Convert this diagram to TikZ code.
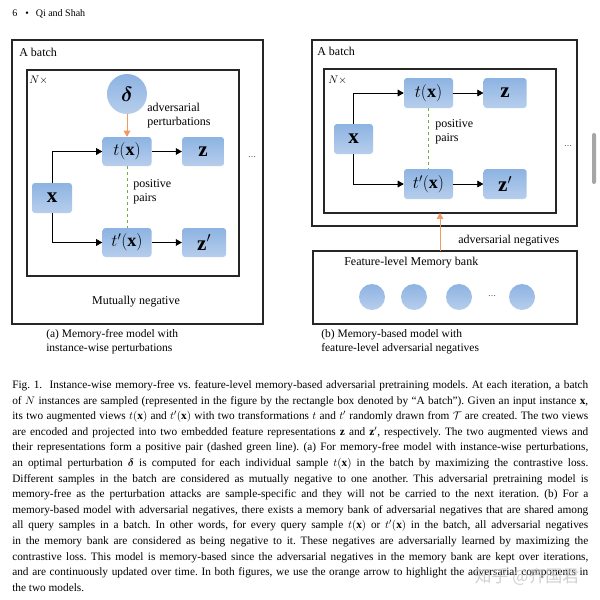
\documentclass[tikz,border=0pt]{standalone}
\usepackage{fontspec}
\setmainfont{Liberation Serif}
\newfontfamily\cjk{Noto Sans CJK SC}
\usepackage{bm}
\usetikzlibrary{arrows,positioning,calc}
\definecolor{boxtop}{HTML}{8DB3E2}
\definecolor{boxbot}{HTML}{B7CEEC}
\definecolor{advorange}{HTML}{F09A62}
\definecolor{posgreen}{HTML}{6FAE45}

\begin{document}
\begin{tikzpicture}[x=1pt, y=-1pt, >=triangle 60, semithick, node distance=30pt]
		\tikzstyle{frame}=[draw=black!85, line width=1.2pt]
		\tikzstyle{blk}=[rounded corners=3pt, top color=boxtop, bottom color=boxbot, inner sep=0pt, minimum height=29pt, text=black]
		\tikzstyle{circ}=[circle, top color=boxtop, bottom color=boxbot, inner sep=0pt]
		\tikzstyle{lbl}=[font=\fontsize{12}{14}\selectfont, align=left, inner sep=0pt]
		\tikzstyle{tx}=[font=\fontsize{18}{18}\selectfont]
		\tikzstyle{big}=[font=\fontsize{21}{21}\selectfont]
		\useasboundingbox (0,0) rectangle (600,600);
		\fill[white] (0,0) rectangle (600,600);
		% header
		\node[anchor=base west, inner sep=0pt, font=\fontsize{10}{12}\selectfont] (head) at (12,16.5) {6\hspace{8pt}\textbullet\hspace{7pt}Qi and Shah};
		% (a) memory-free
		\draw[frame] (12,40) rectangle (263,324);
		\draw[frame] (27,70) rectangle (239,276);
		\node[lbl, anchor=west] (batchA) at (19,52) {A batch};
		\node[lbl, anchor=west, font=\fontsize{11}{13}\selectfont] (NA) at (29,80) {$N\times$};
		\node[circ, minimum size=40pt, font=\fontsize{20}{20}\selectfont] (D) at (127,94) {$\bm{\delta}$};
		\node[blk, tx, minimum width=49pt] (T) at (127,151.5) {$t(\mathbf{x})$};
		\node[blk, big, minimum width=42pt] (Z) [right = 30pt of T] {$\mathbf{z}$};
		\node[blk, big, minimum width=40pt, minimum height=30pt] (X) at (52,198) {$\mathbf{x}$};
		\node[blk, tx, minimum width=49pt] (Tp) at (127,242.5) {$t'(\mathbf{x})$};
		\node[blk, big, minimum width=44pt] (Zp) [right = 30pt of Tp] {$\mathbf{z}'$};
		\node[lbl, anchor=west] (adv) at (147,116) {adversarial\\perturbations};
		\node[lbl, anchor=west] (pos) at (133,192) {positive\\pairs};
		\node[lbl] (mneg) at (136,302) {Mutually negative};
		\node[inner sep=0pt, font=\fontsize{8}{8}\selectfont] (dotsA) at (252,157) {\ldots};
		\draw[->, advorange] (D) -- (T);
		\draw[dashed, posgreen] (T) -- (Tp);
		\draw[->] (X.north) |- (T.west);
		\draw[->] (X.south) |- (Tp.west);
		\draw[->] (T) -- (Z);
		\draw[->] (Tp) -- (Zp);
		% (b) memory-based
		\draw[frame] (312,40) rectangle (577,226);
		\draw[frame] (324,69) rectangle (556,213);
		\node[lbl, anchor=west] (batchB) at (317,51) {A batch};
		\node[lbl, anchor=west, font=\fontsize{11}{13}\selectfont] (NB) at (328,80) {$N\times$};
		\node[blk, tx, minimum width=49pt, minimum height=30pt] (T2) at (428.5,93) {$t(\mathbf{x})$};
		\node[blk, big, minimum width=43pt, minimum height=30pt] (Z2) [right = 30pt of T2] {$\mathbf{z}$};
		\node[blk, big, minimum width=39pt, minimum height=30pt] (X2) at (353.5,139) {$\mathbf{x}$};
		\node[blk, tx, minimum width=49pt, minimum height=30pt] (Tp2) at (428.5,184) {$t'(\mathbf{x})$};
		\node[blk, big, minimum width=43pt, minimum height=30pt] (Zp2) [right = 30pt of Tp2] {$\mathbf{z}'$};
		\node[lbl, anchor=west] (pos2) at (435,132) {positive\\pairs};
		\node[inner sep=0pt, font=\fontsize{8}{8}\selectfont] (dotsB) at (568,146) {\ldots};
		\draw[dashed, posgreen] (T2) -- (Tp2);
		\draw[->] (X2.north) |- (T2.west);
		\draw[->] (X2.south) |- (Tp2.west);
		\draw[->] (T2) -- (Z2);
		\draw[->] (Tp2) -- (Zp2);
		\draw[frame] (313,251) rectangle (577,324);
		\coordinate (bankTop) at (440,251);
		\coordinate (innerBot) at (440,213);
		\draw[->, advorange] (bankTop) -- (innerBot);
		\node[lbl, anchor=west] (advneg) at (458,241) {adversarial negatives};
		\node[lbl, anchor=west] (bank) at (344,263) {Feature-level Memory bank};
		\foreach \cx in {372,414,459,522}
			\node[circ, minimum size=26pt] (m\cx) at (\cx,297) {};
		\node[inner sep=0pt, font=\fontsize{8}{8}\selectfont] (dotsM) at (492,296) {\ldots};
		% scroll bar
		\fill[gray!70, rounded corners=2pt] (592,133) rectangle (596,184);
		% sub-captions
		\node[anchor=base west, inner sep=0pt, align=left, font=\fontsize{11.5}{14}\selectfont] (capA) at (46,351) {(a) Memory-free model with\\instance-wise perturbations};
		\node[anchor=base west, inner sep=0pt, align=left, font=\fontsize{11.5}{14}\selectfont] (capB) at (321,351) {(b) Memory-based model with\\feature-level adversarial negatives};
		% caption
		\node[anchor=base west, inner sep=0pt, font=\fontsize{11.3}{15.6}\selectfont] (cap) at (12,388.5) {\parbox[t]{576pt}{\tolerance=10000\hyphenpenalty=10000\parindent=0pt\frenchspacing
Fig. 1.\ \ Instance-wise memory-free vs. feature-level memory-based adversarial pretraining models. At each iteration, a batch\linebreak
of $N$ instances are sampled (represented in the figure by the rectangle box denoted by ``A batch''). Given an input instance $\mathbf{x}$,\linebreak
its two augmented views $t(\mathbf{x})$ and $t'(\mathbf{x})$ with two transformations $t$ and $t'$ randomly drawn from $\mathcal{T}$ are created. The two views\linebreak
are encoded and projected into two embedded feature representations $\mathbf{z}$ and $\mathbf{z}'$, respectively. The two augmented views and\linebreak
their representations form a positive pair (dashed green line). (a) For memory-free model with instance-wise perturbations,\linebreak
an optimal perturbation $\bm{\delta}$ is computed for each individual sample $t(\mathbf{x})$ in the batch by maximizing the contrastive loss.\linebreak
Different samples in the batch are considered as mutually negative to one another. This adversarial pretraining model is\linebreak
memory-free as the perturbation attacks are sample-specific and they will not be carried to the next iteration. (b) For a\linebreak
memory-based model with adversarial negatives, there exists a memory bank of adversarial negatives that are shared among\linebreak
all query samples in a batch. In other words, for every query sample $t(\mathbf{x})$ or $t'(\mathbf{x})$ in the batch, all adversarial negatives\linebreak
in the memory bank are considered as being negative to it. These negatives are adversarially learned by maximizing the\linebreak
contrastive loss. This model is memory-based since the adversarial negatives in the memory bank are kept over iterations,\linebreak
and are continuously updated over time. In both figures, we use the orange arrow to highlight the adversarial components in\linebreak
the two models.}};
		% watermark
		\node[inner sep=0pt, text=gray!45, opacity=0.8, font=\cjk\fontsize{17}{17}\selectfont] (wm) at (527,577) {知乎 @齐国君};
	\end{tikzpicture}
\end{document}
